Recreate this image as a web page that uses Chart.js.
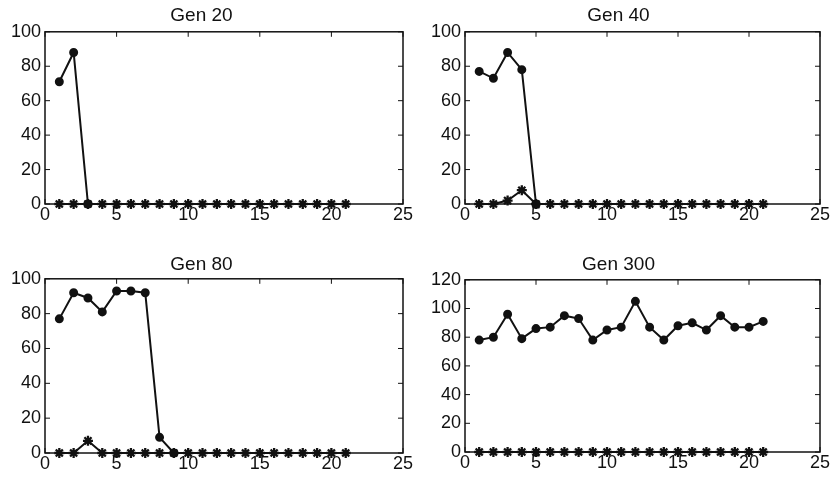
<!DOCTYPE html>
<html>
<head>
<meta charset="utf-8">
<script src="https://cdn.jsdelivr.net/npm/chart.js@4"></script>
<style>
  body { margin: 0; background: #fff; }
  .box { position: absolute; width: 417px; height: 240px; }
</style>
</head>
<body>
<div class="box" style="left:0;top:0"><canvas id="c20"></canvas></div>
<div class="box" style="left:417px;top:0"><canvas id="c40"></canvas></div>
<div class="box" style="left:0;top:240px"><canvas id="c80"></canvas></div>
<div class="box" style="left:417px;top:240px"><canvas id="c300"></canvas></div>
<script>
const xs = [1,2,3,4,5,6,7,8,9,10,11,12,13,14,15,16,17,18,19,20,21];
const xTicks = [0,5,10,15,20,25];

// dot series stop where they hit zero
const gen20Dots  = [71,88,0];
const gen20Stars = [0,0,0,0,0,0,0,0,0,0,0,0,0,0,0,0,0,0,0,0,0];

const gen40Dots  = [77,73,88,78,0];
const gen40Stars = [0,0,2,8,0,0,0,0,0,0,0,0,0,0,0,0,0,0,0,0,0];

const gen80Dots  = [77,92,89,81,93,93,92,9,0];
const gen80Stars = [0,0,7,0,0,0,0,0,0,0,0,0,0,0,0,0,0,0,0,0,0];

const gen300Dots  = [78,80,96,79,86,87,95,93,78,85,87,105,87,78,88,90,85,95,87,87,91];
const gen300Stars = [0,0,0,0,0,0,0,0,0,0,0,0,0,0,0,0,0,0,0,0,0];

const family = "'Liberation Sans', Arial, sans-serif";

// matlab style box with inward ticks
const frame = {
  id: "frame",
  afterDraw(chart) {
    const { ctx, chartArea: a, scales } = chart;
    ctx.save();
    ctx.strokeStyle = "#111";
    ctx.lineWidth = 1.5;
    ctx.strokeRect(a.left, a.top, a.right - a.left, a.bottom - a.top);
    ctx.lineWidth = 1;
    ctx.beginPath();
    scales.x.ticks.forEach(t => {
      const px = scales.x.getPixelForValue(t.value);
      ctx.moveTo(px, a.bottom); ctx.lineTo(px, a.bottom - 5);
      ctx.moveTo(px, a.top); ctx.lineTo(px, a.top + 5);
    });
    scales.y.ticks.forEach(t => {
      const py = scales.y.getPixelForValue(t.value);
      ctx.moveTo(a.left, py); ctx.lineTo(a.left + 5, py);
      ctx.moveTo(a.right, py); ctx.lineTo(a.right - 5, py);
    });
    ctx.stroke();
    ctx.restore();
  }
};

function makeChart(id, title, dots, stars, yMax, leftW, titlePad, axisH) {
  new Chart(document.getElementById(id), {
    type: "line",
    data: {
      datasets: [
        {
          data: stars.map((v, i) => ({ x: xs[i], y: v })),
          borderColor: "#111", backgroundColor: "#111",
          borderWidth: 2, pointRadius: 5, pointBorderWidth: 2.3, pointStyle: "star",
          tension: 0, clip: false, order: 0
        },
        {
          data: dots.map((v, i) => ({ x: xs[i], y: v })),
          borderColor: "#111", backgroundColor: "#111",
          borderWidth: 2, pointRadius: 3.5, pointStyle: "circle",
          tension: 0, clip: false, order: 1
        }
      ]
    },
    options: {
      responsive: true,
      maintainAspectRatio: false,
      animation: false,
      devicePixelRatio: 1,
      layout: { padding: { right: 14, top: 0, bottom: 0 } },
      plugins: {
        legend: { display: false },
        tooltip: { enabled: false },
        title: {
          display: true, text: title, color: "#111",
          font: { family: family, size: 19, weight: "normal" },
          padding: titlePad
        }
      },
      scales: {
        x: {
          type: "linear", min: 0, max: 25,
          afterBuildTicks: s => { s.ticks = xTicks.map(v => ({ value: v })); },
          grid: { display: false, drawTicks: false },
          border: { display: false },
          ticks: { color: "#111", font: { family: family, size: 18 }, padding: 0, maxRotation: 0 },
          afterFit: s => { s.height = axisH; }
        },
        y: {
          min: 0, max: yMax,
          grid: { display: false, drawTicks: false },
          border: { display: false },
          ticks: { color: "#111", font: { family: family, size: 18 }, stepSize: 20, padding: 4 },
          afterFit: s => { s.width = leftW; }
        }
      }
    },
    plugins: [frame]
  });
}

makeChart("c20", "Gen 20", gen20Dots, gen20Stars, 100, 45, { top: 4, bottom: 5 }, 36);
makeChart("c40", "Gen 40", gen40Dots, gen40Stars, 100, 48, { top: 4, bottom: 5 }, 36);
makeChart("c80", "Gen 80", gen80Dots, gen80Stars, 100, 45, { top: 13, bottom: 3 }, 27);
makeChart("c300", "Gen 300", gen300Dots, gen300Stars, 120, 48, { top: 13, bottom: 4 }, 28);
</script>
</body>
</html>
